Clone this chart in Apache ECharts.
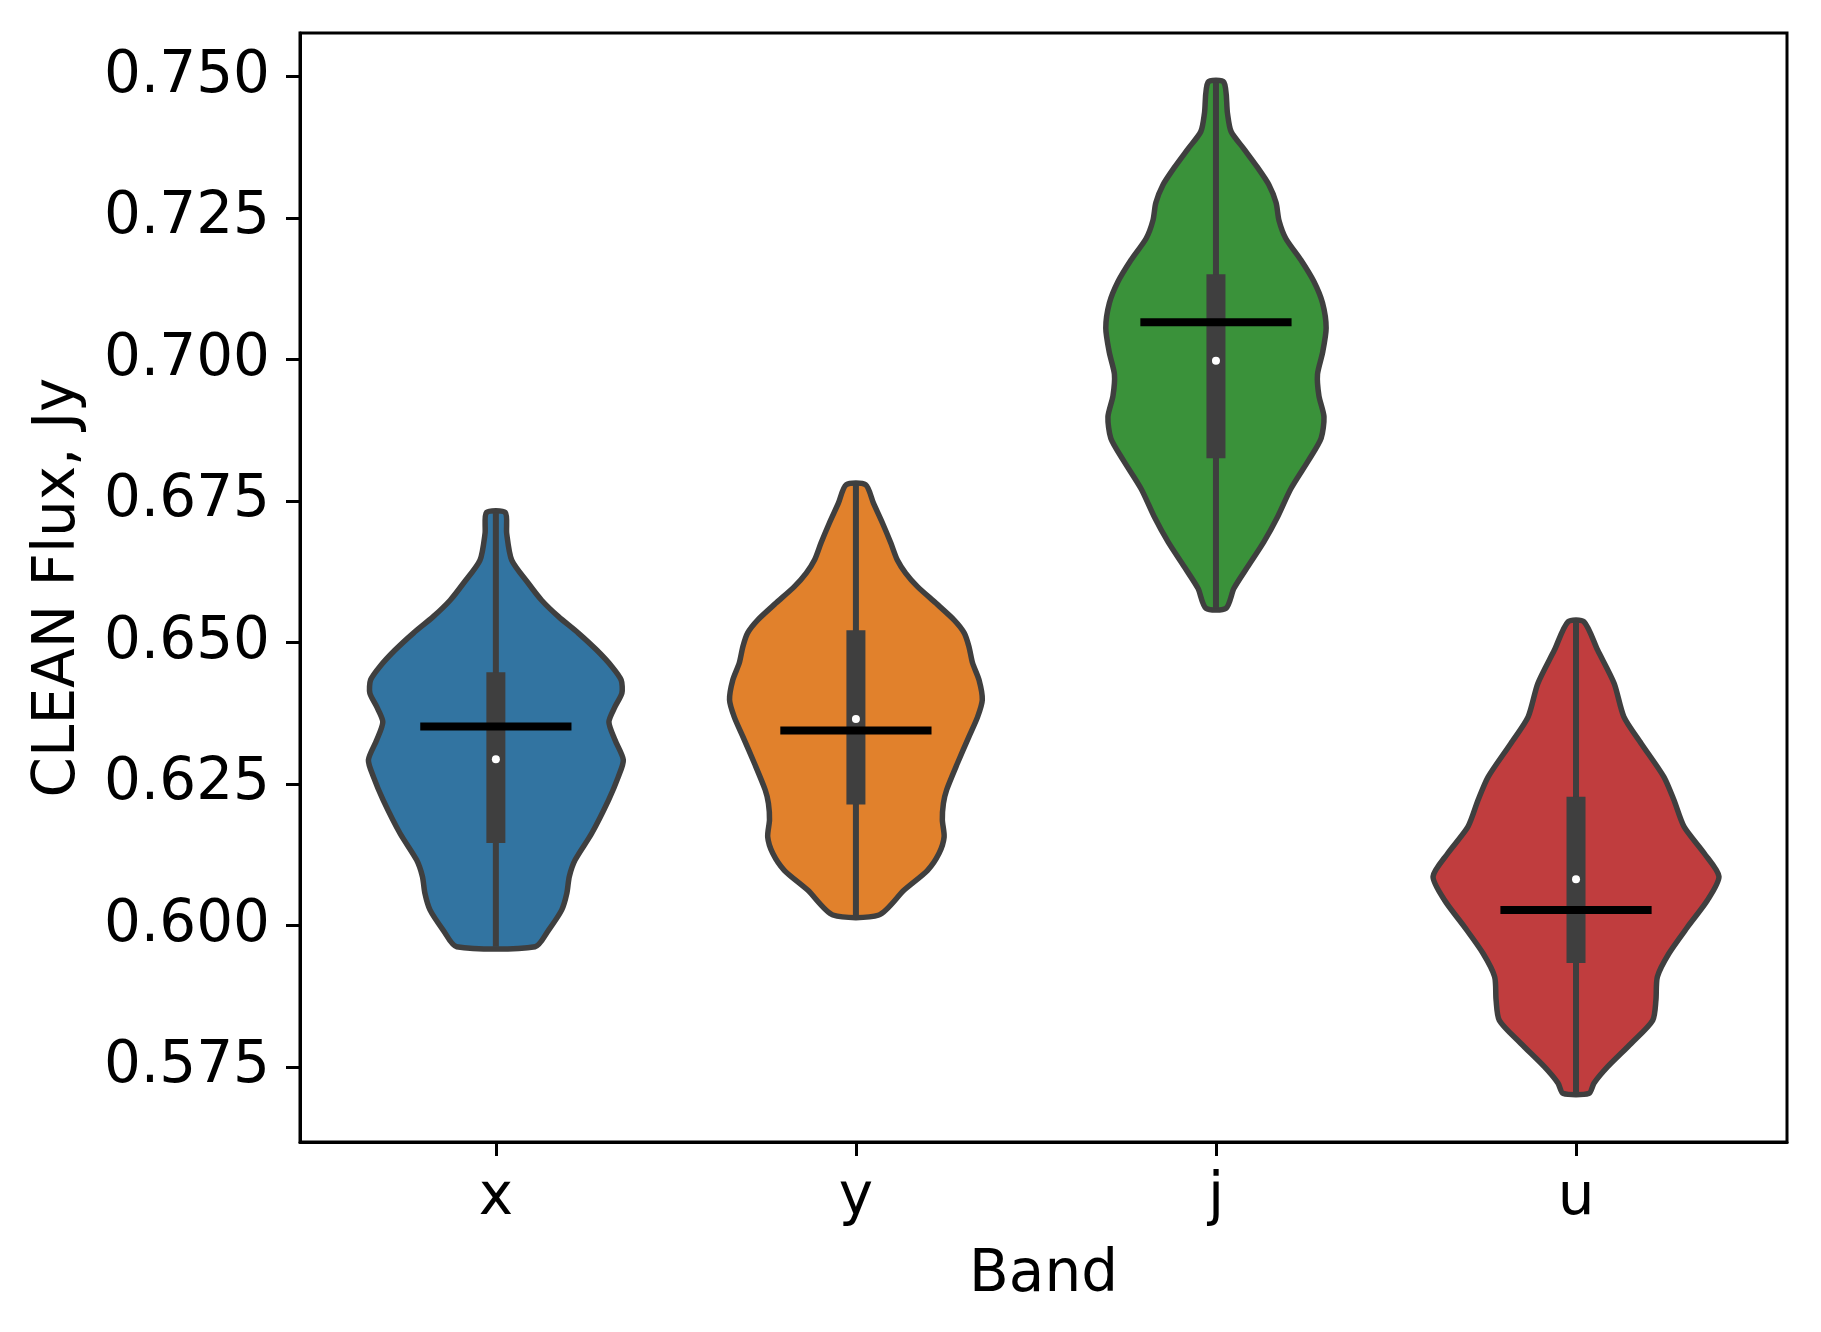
<!DOCTYPE html>
<html>
<head>
<meta charset="utf-8">
<script src="https://cdn.jsdelivr.net/npm/echarts@6/dist/echarts.min.js"></script>
<style>
    html, body { margin: 0; padding: 0; background: #fff; }
    #chart { width: 1821px; height: 1332px; }
</style>
</head>
<body>
<div id="chart"></div>
<script>
// bands on the x axis
const bands = ['x', 'y', 'j', 'u'];
const yTicks = [0.575, 0.600, 0.625, 0.650, 0.675, 0.700, 0.725, 0.750];

// violin outlines: flux levels (top -> bottom) and half width of the violin there
const xFlux = [0.6730, 0.6693, 0.6646, 0.6605, 0.6575, 0.6546, 0.6517, 0.6487, 0.6458, 0.6434, 0.6411, 0.6387,
    0.6360, 0.6328, 0.6293, 0.6263, 0.6222, 0.6163, 0.6116, 0.6087, 0.6057, 0.6028, 0.5992, 0.5963];
const xWidth = [0.026, 0.030, 0.044, 0.090, 0.127, 0.174, 0.229, 0.280, 0.322, 0.348, 0.350, 0.331,
    0.314, 0.331, 0.354, 0.340, 0.313, 0.266, 0.220, 0.204, 0.197, 0.183, 0.146, 0.109];

const yFlux = [0.6779, 0.6746, 0.6711, 0.6676, 0.6646, 0.6623, 0.6599, 0.6570, 0.6540, 0.6517, 0.6493, 0.6464,
    0.6434, 0.6399, 0.6369, 0.6334, 0.6287, 0.6240, 0.6216, 0.6187, 0.6157, 0.6128, 0.6098, 0.6063, 0.6019];
const yWidth = [0.027, 0.049, 0.074, 0.097, 0.115, 0.138, 0.171, 0.222, 0.273, 0.301, 0.314, 0.324,
    0.342, 0.351, 0.338, 0.314, 0.282, 0.252, 0.243, 0.240, 0.245, 0.231, 0.199, 0.134, 0.064];

const jFlux = [0.7490, 0.7435, 0.7403, 0.7372, 0.7340, 0.7309, 0.7277, 0.7246, 0.7214, 0.7176, 0.7138, 0.7100,
    0.7056, 0.7012, 0.6974, 0.6936, 0.6899, 0.6861, 0.6823, 0.6772, 0.6722, 0.6678, 0.6634, 0.6596, 0.6561];
const jWidth = [0.022, 0.032, 0.042, 0.078, 0.115, 0.147, 0.167, 0.175, 0.194, 0.236, 0.272, 0.296,
    0.306, 0.296, 0.282, 0.286, 0.300, 0.292, 0.258, 0.208, 0.171, 0.133, 0.088, 0.050, 0.028];

const uFlux = [0.6537, 0.6487, 0.6428, 0.6369, 0.6322, 0.6263, 0.6222, 0.6175, 0.6128, 0.6087, 0.6045, 0.5998,
    0.5951, 0.5910, 0.5869, 0.5833, 0.5792, 0.5751, 0.5722, 0.5704];
const uWidth = [0.022, 0.060, 0.106, 0.133, 0.181, 0.244, 0.272, 0.300, 0.356, 0.397, 0.365, 0.310,
    0.258, 0.226, 0.222, 0.213, 0.153, 0.088, 0.050, 0.036];

// inner box, median and the black reference line
const q1 = [0.6146, 0.6214, 0.6826, 0.5934];
const q3 = [0.6448, 0.6522, 0.7151, 0.6228];
const medians = [0.6294, 0.6365, 0.6998, 0.6082];
const means = [0.6352, 0.6345, 0.7066, 0.6028];

const fluxLevels = [xFlux, yFlux, jFlux, uFlux];
const halfWidths = [xWidth, yWidth, jWidth, uWidth];
const colors = ['#3274a1', '#e1812c', '#3a923a', '#c03d3e'];
const edgeColor = '#3f3f3f';
const FONT = 'DejaVu Sans';

let chart = echarts.init(document.getElementById('chart'));

function renderViolin(params, api) {
    const i = api.value(0);
    const flux = fluxLevels[i];
    const w = halfWidths[i];
    let pts = [];
    for (let k = 0; k < flux.length; k++) {
        pts.push(api.coord([i + w[k], flux[k]]));
    }
    for (let k = flux.length - 1; k >= 0; k--) {
        pts.push(api.coord([i - w[k], flux[k]]));
    }
    const top = api.coord([i, flux[0]]);
    const bottom = api.coord([i, flux[flux.length - 1]]);
    const boxTop = api.coord([i, q3[i]]);
    const boxBottom = api.coord([i, q1[i]]);
    const med = api.coord([i, medians[i]]);
    const meanL = api.coord([i - 0.21, means[i]]);
    const meanR = api.coord([i + 0.21, means[i]]);
    return {
        type: 'group',
        children: [
            {
                type: 'polygon',
                shape: { points: pts, smooth: 0.25 },
                style: { fill: colors[i], stroke: edgeColor, lineWidth: 5.5, lineJoin: 'round' }
            },
            {
                type: 'line',
                shape: { x1: top[0], y1: top[1], x2: bottom[0], y2: bottom[1] },
                style: { stroke: edgeColor, lineWidth: 6 }
            },
            {
                type: 'rect',
                shape: { x: boxTop[0] - 9.5, y: boxTop[1], width: 19, height: boxBottom[1] - boxTop[1] },
                style: { fill: edgeColor }
            },
            {
                type: 'line',
                shape: { x1: meanL[0], y1: meanL[1], x2: meanR[0], y2: meanR[1] },
                style: { stroke: '#000', lineWidth: 8 }
            },
            {
                type: 'circle',
                shape: { cx: med[0], cy: med[1], r: 4 },
                style: { fill: '#fff' }
            }
        ]
    };
}

let option = {
    animation: false,
    backgroundColor: '#fff',
    grid: {
        left: 300,
        right: 34,
        top: 33,
        bottom: 190,
        show: true,
        borderColor: '#000',
        borderWidth: 3
    },
    xAxis: {
        type: 'value',
        min: -0.544,
        max: 3.586,
        name: 'Band',
        nameLocation: 'middle',
        nameGap: 105,
        nameTextStyle: { fontFamily: FONT, fontSize: 58, color: '#000' },
        splitLine: { show: false },
        axisLine: { show: true, onZero: false, lineStyle: { color: '#000', width: 3 } },
        axisTick: { show: true, length: 14, lineStyle: { color: '#000', width: 3 }, customValues: [0, 1, 2, 3] },
        axisLabel: {
            customValues: [0, 1, 2, 3],
            formatter: function (v) { return bands[Math.round(v)]; },
            fontFamily: FONT, fontSize: 58, color: '#000', margin: 28
        }
    },
    yAxis: {
        type: 'value',
        min: 0.5618,
        max: 0.7577,
        name: 'CLEAN Flux, Jy',
        nameLocation: 'middle',
        nameGap: 212,
        nameTextStyle: { fontFamily: FONT, fontSize: 58, color: '#000' },
        splitLine: { show: false },
        axisLine: { show: true, onZero: false, lineStyle: { color: '#000', width: 3 } },
        axisTick: { show: true, length: 14, lineStyle: { color: '#000', width: 3 }, customValues: yTicks },
        axisLabel: {
            customValues: yTicks,
            formatter: function (v) { return v.toFixed(3); },
            fontFamily: FONT, fontSize: 58, color: '#000', margin: 30,
            padding: [7, 0, 0, 0]
        }
    },
    series: [{
        type: 'custom',
        renderItem: renderViolin,
        clip: false,
        data: bands.map(function (b, i) { return [i]; })
    }]
};

chart.setOption(option);
</script>
</body>
</html>
